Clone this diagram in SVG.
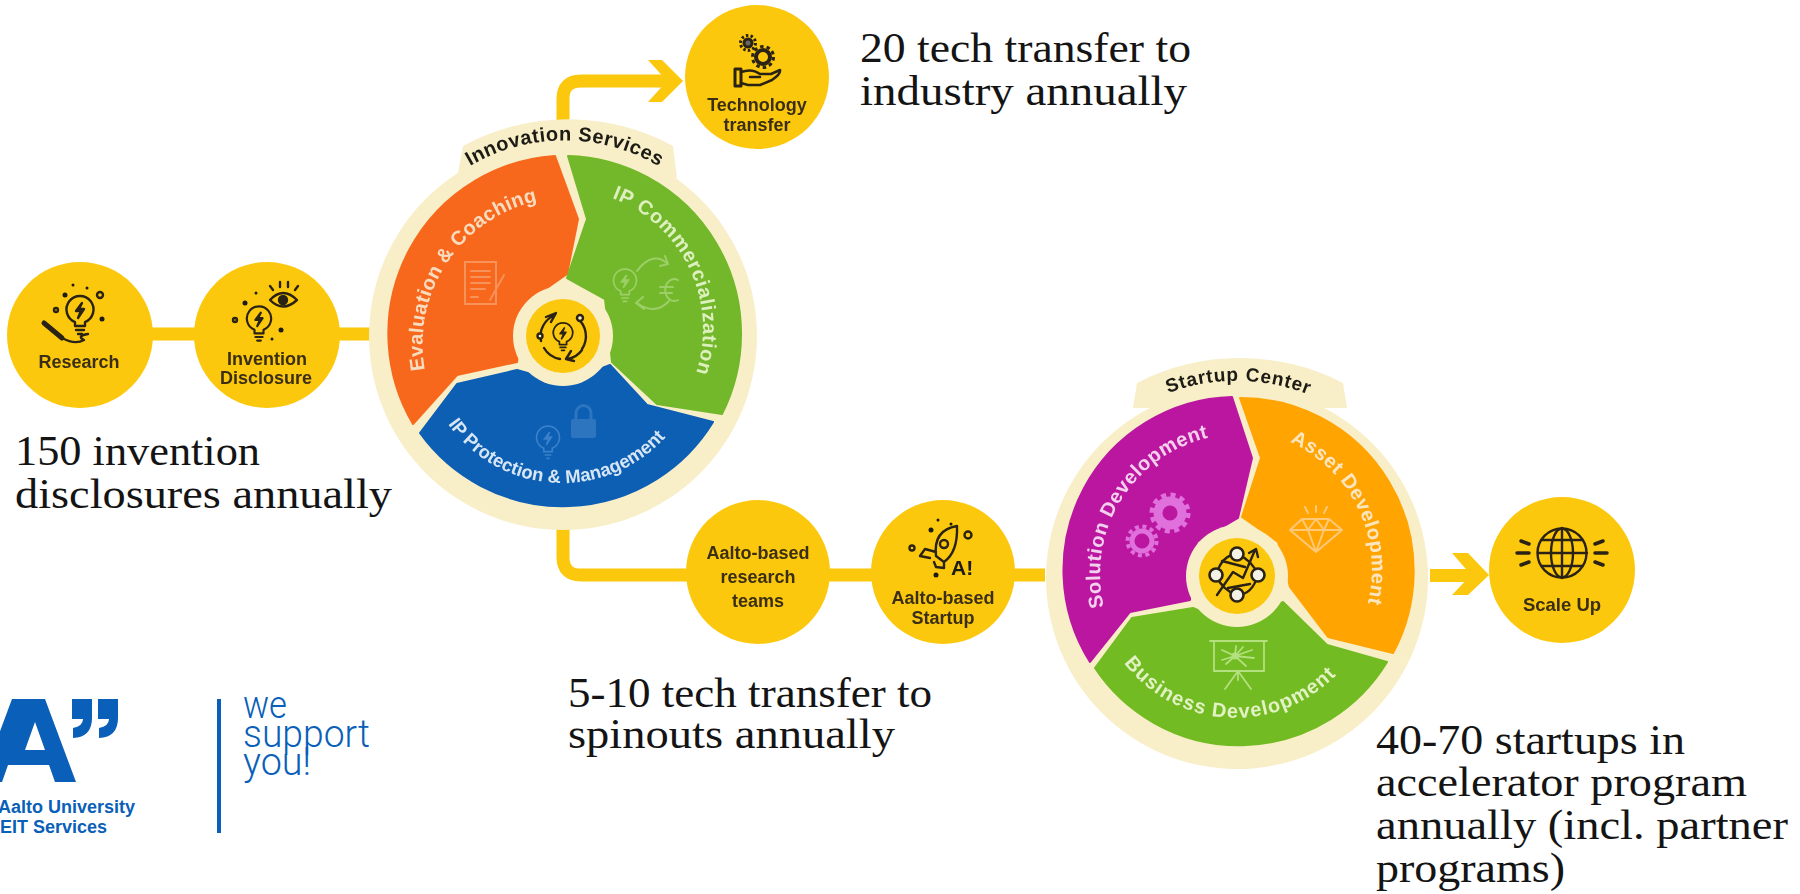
<svg xmlns="http://www.w3.org/2000/svg" width="1800" height="894" viewBox="0 0 1800 894">
<style>
.note{font-family:"Liberation Serif",serif;font-size:42px;fill:#141414}
.lab{font-family:"Liberation Sans",Arial,sans-serif;font-size:18px;font-weight:700;fill:#3a2f14;text-anchor:middle}
.arc{font-family:"Liberation Sans",Arial,sans-serif;font-weight:700;font-size:20px}
.dark{fill:#1d1a12}
.seg{font-family:"Liberation Sans",Arial,sans-serif;font-weight:700;font-size:20px}
.y{fill:#fcc80c}
.cream{fill:#f8eec8}
.ln{fill:none;stroke:#2a2312;stroke-width:2.4;stroke-linecap:round;stroke-linejoin:round}
.conn{fill:none;stroke:#fcc80c;stroke-width:13}
.blue{fill:#0a5fb8}
.logo{font-family:"Liberation Sans",Arial,sans-serif;font-weight:700;font-size:18px;fill:#0a5fb8;text-anchor:end}
.we{font-family:Roboto,"Liberation Sans",sans-serif;font-weight:300;font-size:38px;fill:#0a5fb8}
</style>
<defs>
<filter id="soft" x="-5%" y="-5%" width="110%" height="110%"><feGaussianBlur stdDeviation="0.55"/></filter>
<g id="bulb"><path d="M-5,12 A13.5,13.5 0 1 1 5,12 L5,16 H-5 Z"/><path d="M-4,20 H4 M-2,24 H2"/><path d="M2,-7 L-4,1 H1 L-2,8 L4,-1 H-1 Z"/></g>
<path id="t1" d="M470,166 A186,186 0 0 1 660,167"/>
<path id="t2" d="M1168,393 A197,197 0 0 1 1307,394"/>
<path id="s1" d="M425,370 A146,146 0 0 1 538,201"/>
<path id="s2" d="M612,198 A140,140 0 0 1 696,373"/>
<path id="s3" d="M448,424 A140,140 0 0 0 665,438"/>
<path id="s4" d="M1104,607 A140,140 0 0 1 1207,438"/>
<path id="s5" d="M1290,442 A140,140 0 0 1 1368,602"/>
<path id="s6" d="M1124,663 A140,140 0 0 0 1336,675"/>
</defs>
<rect width="1800" height="894" fill="#fff"/>

<g id="connectors" filter="url(#soft)">
<path class="conn" d="M147,334 H375"/>
<path class="conn" d="M563,125 V99 Q563,81 581,81 H672"/>
<path class="y" d="M648,60 H662 L683,81 L662,102 H648 L667,81 Z"/>
<path class="conn" d="M563,520 V557 Q563,575 581,575 H1045"/>
<path class="conn" d="M1430,575.500 H1475"/>
<path class="y" d="M1452,553 H1468 L1489,575 L1468,595 H1452 L1471,575 Z"/>
</g>

<g id="wheel-innovation" filter="url(#soft)">
<circle class="cream" cx="563" cy="336" r="194"/>
<path class="cream" d="M457,178 L463,146 A220,220 0 0 1 673,146 L677,178 Z"/>
<path fill="#f8681c" stroke="#f8681c" stroke-width="2" stroke-linejoin="round" d="M555,156 L578,219 L567,274 L527,302 L517,362 L457,375 L413,424 A178,178 0 0 1 555,156 Z"/>
<path fill="#72b82a" stroke="#72b82a" stroke-width="2" stroke-linejoin="round" d="M568,156 L587,219 L567,278 L605,299 L612,362 L657,404 L722,414 A178,178 0 0 0 568,156 Z"/>
<path fill="#0a5eb4" stroke="#0a5eb4" stroke-width="2" stroke-linejoin="round" d="M420,433 L457,384 L517,370 L563,383 L610,365 L647,405 L713,422 A176,176 0 0 1 420,433 Z"/>
<circle class="cream" cx="563" cy="336" r="50"/>
<circle class="y" cx="563" cy="336" r="37"/>
<g transform="translate(563,336)" class="ln">
<use href="#bulb" transform="translate(0,-3) scale(.72)"/>
<path d="M-8,-21 A23,23 0 0 0 -22,5 M-17,-19 L-7,-23 L-12,-14"/>
<path d="M14,-18 A23,23 0 0 1 19,13"/>
<path d="M-19,12 A23,23 0 0 0 -3,23"/>
<path d="M19,14 A23,23 0 0 1 5,23 M11,25 L3,23 L8,15"/>
<circle cx="17" cy="-18" r="3" fill="#f8eec8"/><circle cx="-23" cy="0" r="2.500" fill="#f8eec8"/>
</g>
<text class="arc dark"><textPath href="#t1" textLength="198" lengthAdjust="spacing">Innovation Services</textPath></text>
<text class="seg" fill="#f8dcc0"><textPath href="#s1" textLength="224" lengthAdjust="spacing">Evaluation &amp; Coaching</textPath></text>
<text class="seg" fill="#dff0c0"><textPath href="#s2" textLength="214" lengthAdjust="spacing">IP Commercialization</textPath></text>
<text class="seg" fill="#d8e6f4" style="font-size:18.500px"><textPath href="#s3" textLength="250" lengthAdjust="spacing">IP Protection &amp; Management</textPath></text>
<g fill="none" stroke="#f9915a" stroke-width="2" stroke-linecap="round" transform="translate(-2,12)">
<path d="M467,250 H498 V292 H467 Z"/><path d="M473,259 H492 M473,265 H492 M473,271 H492 M473,277 H487 M473,285 H480"/><path d="M492,288 L506,263"/>
</g>
<g fill="none" stroke="#9ccf68" stroke-width="2" stroke-linecap="round" transform="translate(0,12)">
<use href="#bulb" transform="translate(625,269) scale(.85)"/>
<path d="M637,259 Q653,238 668,252 M665,244 L668,252 L660,254"/>
<path d="M669,289 Q655,304 637,291 M643,285 L636,291 L644,297"/>
<path d="M678,268 A9,11 0 1 0 678,288 M660,275 H673 M660,281 H672"/>
</g>
<g transform="translate(14,20)">
<rect x="557" y="399" width="25" height="19" rx="2" fill="#2d75c0"/>
<path d="M562,399 V393 A7.500,7.500 0 0 1 577,393 V399" fill="none" stroke="#2d75c0" stroke-width="3"/>
<g fill="none" stroke="#3a80c8" stroke-width="2"><use href="#bulb" transform="translate(534,418) scale(.85)"/></g>
</g>
</g>

<g id="wheel-startup" filter="url(#soft)">
<circle class="cream" cx="1237" cy="578" r="191"/>
<path class="cream" d="M1133,408 L1137,383 A225,225 0 0 1 1343,383 L1347,408 Z"/>
<path fill="#bb16a0" stroke="#bb16a0" stroke-width="2" stroke-linejoin="round" d="M1232,397 L1252,458 L1238,518 L1197,542 L1190,600 L1130,612 L1090,662 A173,173 0 0 1 1232,397 Z"/>
<path fill="#ffa406" stroke="#ffa406" stroke-width="2" stroke-linejoin="round" d="M1240,398 L1261,458 L1242,517 L1278,542 L1290,587 L1328,637 L1393,653 A173,173 0 0 0 1240,398 Z"/>
<path fill="#72bb22" stroke="#72bb22" stroke-width="2" stroke-linejoin="round" d="M1095,668 L1132,618 L1193,608 L1237,627 L1283,602 L1327,645 L1387,662 A173,173 0 0 1 1095,668 Z"/>
<circle class="cream" cx="1237" cy="576" r="51"/>
<circle class="y" cx="1237" cy="576" r="38"/>
<g class="ln">
<path d="M1217,595 L1233,572 L1243,578 L1255,550 M1249,553 L1256,549 L1258,557"/>
<path d="M1216,575 Q1222,555 1237,554 M1258,575 Q1252,595 1237,595 M1216,575 Q1222,590 1237,595 M1258,575 Q1252,560 1237,554 M1222,561 L1245,567 M1228,588 L1250,584"/>
<g fill="#f4f1e6" stroke-width="2.600"><circle cx="1237" cy="554" r="6.500"/><circle cx="1216" cy="575" r="6.500"/><circle cx="1258" cy="575" r="6.500"/><circle cx="1237" cy="595" r="6.500"/></g>
</g>
<text class="arc dark" style="font-size:19px"><textPath href="#t2" textLength="143" lengthAdjust="spacing">Startup Center</textPath></text>
<text class="seg" fill="#f3d0ee"><textPath href="#s4" textLength="221" lengthAdjust="spacing">Solution Development</textPath></text>
<text class="seg" fill="#fbe6c0"><textPath href="#s5" textLength="194" lengthAdjust="spacing">Asset Development</textPath></text>
<text class="seg" fill="#e2f2c4"><textPath href="#s6" textLength="241" lengthAdjust="spacing">Business Development</textPath></text>
<g fill="none" stroke="#df6fdc">
<circle cx="1170" cy="513" r="12" stroke-width="9"/><circle cx="1170" cy="513" r="18" stroke-width="5" stroke-dasharray="5 4.420"/>
<circle cx="1142" cy="541" r="10" stroke-width="5"/><circle cx="1142" cy="541" r="14.500" stroke-width="4" stroke-dasharray="4 3.590"/>
</g>
<g fill="none" stroke="#ffc977" stroke-width="2" stroke-linejoin="round" stroke-linecap="round">
<path d="M1302,519 H1329 L1342,530 L1316,552 L1290,530 Z M1290,530 H1342 M1302,519 L1308,530 L1316,552 L1324,530 L1329,519 M1308,530 L1316,519 L1324,530"/>
<path d="M1316,506 V512 M1305,507 L1308,513 M1327,507 L1324,513"/>
</g>
<g fill="none" stroke="#b4e07f" stroke-width="1.800" stroke-linecap="round">
<path d="M1210,641 H1267 M1214,641 V671 H1264 V641 M1238,671 L1225,689 M1238,671 L1251,689 M1238,671 V680"/>
<path d="M1235,656 L1222,650 M1235,656 L1222,660 M1235,656 L1226,664 M1235,656 L1243,647 M1235,656 L1252,650 M1235,656 L1254,658 M1235,656 L1246,666 M1235,656 L1236,646"/>
<circle cx="1235" cy="656" r="2.500" fill="#b4e07f"/>
</g>
</g>

<g id="node-research" filter="url(#soft)">
<circle class="y" cx="80" cy="335" r="73"/>
<g class="ln"><use href="#bulb" transform="translate(80,310)"/>
<path d="M44,323 L62,338" stroke-width="5"/><path d="M62,338 Q75,345 84,340 Q76,336 88,334"/>
<circle cx="100" cy="295" r="3"/><circle cx="56" cy="310" r="2"/></g>
<g class="dark"><circle cx="65" cy="295" r="2.500"/><circle cx="102" cy="319" r="2.500"/><circle cx="73" cy="285" r="1.500"/><circle cx="87" cy="288" r="1.500"/></g>
<text class="lab" x="79" y="368">Research</text>
</g>

<g id="node-invention" filter="url(#soft)">
<circle class="y" cx="267" cy="335" r="73"/>
<g class="ln"><use href="#bulb" transform="translate(259,319) scale(.9)"/>
<path d="M270,300 Q283,286 297,300 Q283,313 270,300 Z"/><circle cx="283" cy="300" r="4" fill="#2a2312"/>
<path d="M273,290 L270,286 M280,287 V282 M288,287 V282 M295,290 L298,286"/>
<circle cx="235" cy="320" r="2"/></g>
<g class="dark"><circle cx="245" cy="303" r="2.500"/><circle cx="281" cy="330" r="2.500"/><circle cx="256" cy="293" r="1.500"/><circle cx="272" cy="339" r="1.500"/></g>
<text class="lab" x="267" y="365">Invention</text><text class="lab" x="266" y="384">Disclosure</text>
</g>

<g id="node-technology" filter="url(#soft)">
<circle class="y" cx="757" cy="77" r="72"/>
<g fill="none" stroke="#2a2312">
<circle cx="748" cy="43" r="4" stroke-width="3" fill="#666"/><circle cx="748" cy="43" r="7.500" stroke-width="3" stroke-dasharray="2.500 2.210"/>
<circle cx="763" cy="57" r="7" stroke-width="4"/><circle cx="763" cy="57" r="10.500" stroke-width="3" stroke-dasharray="3.500 3.100"/>
</g>
<g class="ln" transform="translate(0,2)"><path d="M735,67 H741 V84 H735 Z" stroke-width="3"/><path d="M741,70 Q752,66 760,72 H771 L780,68 Q781,72 772,78 L760,83 H748 L741,81 M760,75 H750" stroke-width="2.500"/></g>
<text class="lab" x="757" y="111">Technology</text><text class="lab" x="757" y="131">transfer</text>
</g>

<g id="node-teams" filter="url(#soft)">
<circle class="y" cx="758" cy="572" r="72"/>
<text class="lab" x="758" y="559">Aalto-based</text><text class="lab" x="758" y="583">research</text><text class="lab" x="758" y="607">teams</text>
</g>

<g id="node-startup" filter="url(#soft)">
<circle class="y" cx="943" cy="572" r="72"/>
<g class="ln" stroke-width="2.800">
<path d="M936,556 Q933,530 957,526 Q958,552 944,562 Z M936,552 L925,549 L920,556 L930,558 M944,562 L944,568 L936,567 L934,562"/>
<circle cx="944" cy="544" r="4"/><circle cx="968" cy="535" r="3.500"/><circle cx="912" cy="548" r="2.500"/>
</g>
<g class="dark"><circle cx="931" cy="530" r="2.500"/><circle cx="936" cy="575" r="2.500"/><circle cx="938" cy="520" r="1.500"/><circle cx="951" cy="524" r="1.500"/></g>
<text x="951" y="575" style="font-family:'Liberation Sans',sans-serif;font-weight:700;font-size:21px" class="dark">A!</text>
<text class="lab" x="943" y="604">Aalto-based</text><text class="lab" x="943" y="624">Startup</text>
</g>

<g id="node-scale" filter="url(#soft)">
<circle class="y" cx="1562" cy="570" r="73"/>
<g class="ln" stroke-width="3"><circle cx="1562" cy="553" r="24.500"/><ellipse cx="1562" cy="553" rx="11" ry="24.500"/><path d="M1562,528 V578 M1538,553 H1587 M1542,540 H1582 M1542,566 H1582"/>
<path d="M1521,541 L1529,544 M1517,553 H1529 M1521,565 L1529,562 M1603,541 L1595,544 M1607,553 H1595 M1603,565 L1595,562" stroke-width="3.500"/></g>
<text class="lab" x="1562" y="611" style="font-size:18.500px">Scale Up</text>
</g>

<g id="notes">
<text class="note" x="15" y="465" textLength="245" lengthAdjust="spacingAndGlyphs">150 invention</text>
<text class="note" x="15" y="508" textLength="377" lengthAdjust="spacingAndGlyphs">disclosures annually</text>
<text class="note" x="860" y="62" textLength="331" lengthAdjust="spacingAndGlyphs">20 tech transfer to</text>
<text class="note" x="860" y="105" textLength="327" lengthAdjust="spacingAndGlyphs">industry annually</text>
<text class="note" x="568" y="707" textLength="364" lengthAdjust="spacingAndGlyphs">5-10 tech transfer to</text>
<text class="note" x="568" y="748" textLength="327" lengthAdjust="spacingAndGlyphs">spinouts annually</text>
<text class="note" x="1376" y="754" textLength="309" lengthAdjust="spacingAndGlyphs">40-70 startups in</text>
<text class="note" x="1376" y="796" textLength="371" lengthAdjust="spacingAndGlyphs">accelerator program</text>
<text class="note" x="1376" y="839" textLength="412" lengthAdjust="spacingAndGlyphs">annually (incl. partner</text>
<text class="note" x="1376" y="882" textLength="189" lengthAdjust="spacingAndGlyphs">programs)</text>
</g>

<g id="logo">
<path class="blue" fill-rule="evenodd" d="M12,699 H45 L76,782 H55 L49,765 H8 L2,782 H-19 Z M35,722 L25,750 H45 Z"/>
<path class="blue" d="M72,699 H92 V718 Q92,737 73,738 V728 Q83,726 83,719 H72 Z"/>
<path class="blue" d="M98,699 H118 V718 Q118,737 99,738 V728 Q109,726 109,719 H98 Z"/>
<text class="logo" x="135" y="813">Aalto University</text>
<text class="logo" x="107" y="833">EIT Services</text>
<rect class="blue" x="217" y="699" width="4" height="134"/>
<text class="we" x="243" y="718" textLength="44" lengthAdjust="spacingAndGlyphs">we</text>
<text class="we" x="243" y="747" textLength="127" lengthAdjust="spacingAndGlyphs">support</text>
<text class="we" x="243" y="775" textLength="68" lengthAdjust="spacingAndGlyphs">you!</text>
</g>
</svg>
